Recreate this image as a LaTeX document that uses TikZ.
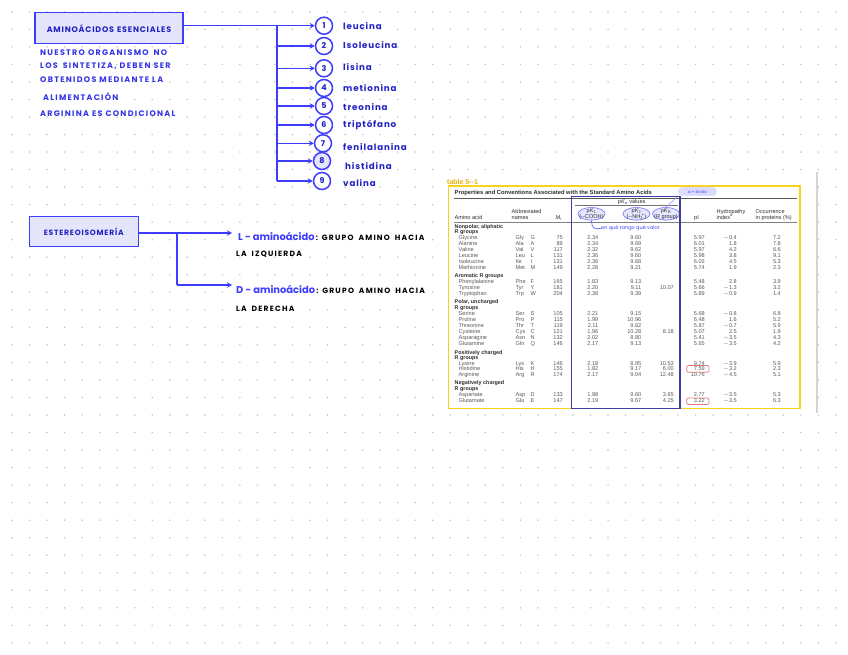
\documentclass[tikz,border=0pt]{standalone}
\usepackage{fontspec}
\setmainfont{Liberation Sans}
\newfontfamily\hand{Poppins}[LetterSpace=10]
\newfontfamily\handw{Poppins}[LetterSpace=16]
\newfontfamily\handn{Poppins}
\newfontfamily\tabf{Liberation Sans}
\usetikzlibrary{arrows.meta,calc,shapes.geometric}
\definecolor{lineblue}{HTML}{3D3DFF}
\definecolor{inkblue}{HTML}{2222C4}
\definecolor{parblue}{HTML}{3535E6}
\definecolor{boxfill}{HTML}{E4E4FA}
\definecolor{dotgray}{HTML}{C2C2C2}
\definecolor{tabgray}{HTML}{5A5A5A}
\definecolor{tabdark}{HTML}{2E2E2E}
\definecolor{tabyellow}{HTML}{F7D31A}
\definecolor{rectblue}{HTML}{3E3EA0}
\definecolor{ttlorange}{HTML}{E6AE00}
\definecolor{pinkred}{HTML}{E07A7A}
\newcommand{\wsp}{\hspace{3pt}}
\newcommand{\wspb}{\hspace{5pt}}
\tikzset{
  ln/.style={draw=lineblue, line width=1.3pt},
  arr/.style={ln, -{Stealth[length=5pt,width=5.5pt]}},
  hbox/.style={draw=lineblue, fill=boxfill, line width=1.2pt, inner sep=0pt},
  circ/.style={circle, draw=lineblue, line width=1.5pt, minimum size=17pt, inner sep=0pt, fill=white,
    font=\handn\bfseries\fontsize{8}{8}\selectfont, text=inkblue},
  lab/.style={anchor=west, inner sep=0pt, text=inkblue, font=\hand\bfseries\fontsize{8.7}{9}\selectfont},
  par/.style={anchor=west, inner sep=0pt, text=parblue, font=\handw\bfseries\fontsize{8}{9}\selectfont},
  blk/.style={anchor=west, inner sep=0pt, text=black, font=\handw\bfseries\fontsize{7.6}{8}\selectfont},
  tb/.style={inner sep=0pt, text=tabgray, font=\tabf\fontsize{5.6}{6}\selectfont},
  tg/.style={inner sep=0pt, text=tabdark, anchor=base west, font=\tabf\bfseries\fontsize{5.4}{6}\selectfont},
  hd/.style={inner sep=0pt, text=tabdark, font=\tabf\fontsize{5.6}{6}\selectfont},
  ell/.style={ellipse, draw=lineblue!75, fill=lineblue!13, line width=0.6pt, minimum width=27pt, minimum height=12.5pt, inner sep=0pt}
}
\begin{document}
\begin{tikzpicture}[x=1pt,y=-1pt]
\useasboundingbox (0,0) rectangle (848,655);
\fill[white] (0,0) rectangle (848,655);
% dot grid
\foreach \i in {0,...,47}{\foreach \j in {0,...,36}{\fill[dotgray] ({12+17.53*\i},{11.8+17.53*\j}) circle (0.85pt);}}

% ---------- Aminoacidos esenciales ----------
\node[hbox, minimum width=148pt, minimum height=31pt] (ae) at (109,28.3)
  {\textcolor{inkblue}{\hand\bfseries\fontsize{8}{9}\selectfont AMINOÁCIDOS\wsp ESENCIALES}};
\node[par] (p1) at (40,52.7) {NUESTRO\wsp ORGANISMO\wspb NO};
\node[par] (p2) at (40,66.3) {LOS\wspb SINTETIZA,\wsp DEBEN\wsp SER};
\node[par] (p3) at (40,80) {OBTENIDOS\wsp MEDIANTE\wsp LA};
\node[par] (p4) at (43,96.7) {ALIMENTACIÓN};
\node[par] (p5) at (40,114) {ARGININA\wsp ES\wsp CONDICIONAL};

\node[circ] (c1) at (324,25.7) {1};
\node[circ] (c2) at (324,46) {2};
\node[circ] (c3) at (324,68.3) {3};
\node[circ] (c4) at (324,88) {4};
\node[circ] (c5) at (324,106) {5};
\node[circ] (c6) at (324,125) {6};
\node[circ] (c7) at (323,143.3) {7};
\node[circ, fill=boxfill] (c8) at (322,161) {8};
\node[circ] (c9) at (322,181) {9};

\node[lab] (l1) at (343,25.7) {leucina};
\node[lab] (l2) at (343,45) {Isoleucina};
\node[lab] (l3) at (343,66.7) {lisina};
\node[lab] (l4) at (343,88.3) {metionina};
\node[lab] (l5) at (343,106.7) {treonina};
\node[lab] (l6) at (343,125) {triptófano};
\node[lab] (l7) at (343,146.7) {fenilalanina};
\node[lab] (l8) at (345,166) {histidina};
\node[lab] (l9) at (343,183.3) {valina};

\coordinate (tk) at (277,0);
\draw[ln] (ae.east |- c1) -- (tk |- c1);
\draw[ln] (tk |- c1) -- (tk |- c9);
\draw[arr] (tk |- c1) -- (c1);
\foreach \k in {2,...,9}{\draw[arr] (tk |- c\k) -- (c\k);}

% ---------- Estereoisomeria ----------
\node[hbox, minimum width=109pt, minimum height=30pt] (st) at (83.7,231.7)
  {\textcolor{inkblue}{\hand\bfseries\fontsize{7.6}{8}\selectfont ESTEREOISOMERÍA}};
\coordinate (sj) at (177,233);
\coordinate (La) at (232,233);
\coordinate (Da) at (232,285);
\draw[ln] (st.east |- sj) -- (sj) -- (sj |- Da);
\draw[arr] (sj) -- (La);
\draw[arr] (sj |- Da) -- (Da);
\node[blk] (Lt) at (238,236.5) {\textcolor{lineblue}{\handn\fontsize{9.9}{10}\selectfont L - aminoácido}\,: GRUPO\wspb AMINO\wspb HACIA};
\node[blk] (Lt2) at (236,254.5) {LA\wspb IZQUIERDA};
\node[blk] (Dt) at (236,289) {\textcolor{lineblue}{\handn\fontsize{9.9}{10}\selectfont D - aminoácido}\,: GRUPO\wspb AMINO\wspb HACIA};
\node[blk] (Dt2) at (236,308.5) {LA\wspb DERECHA};

% ---------- Table image ----------
\fill[white] (444,172) rectangle (816,413);
\draw[black!17, line width=1.5pt] (817,172) -- (817,413);
\node[inner sep=0pt, anchor=base west, text=ttlorange, font=\tabf\bfseries\fontsize{7}{8}\selectfont] (tl) at (447,184.3) {table 5--1};
\draw[tabyellow, line width=1.5pt] (448.5,186) rectangle (800,408.5);
\node[inner sep=0pt, anchor=base west, text=tabdark, font=\tabf\bfseries\fontsize{5.8}{7}\selectfont] (tt) at (454.5,194.3) {Properties and Conventions Associated with the Standard Amino Acids};
\draw[black!65, line width=0.6pt] (454,198.3) -- (797,198.3);
\draw[black!55, line width=0.5pt] (575,205.3) -- (678,205.3);
\draw[black!50, line width=1.6pt] (454,222.6) -- (797,222.6);

% annotations behind header text
\node[ell] (e1) at (591.5,213.8) {};
\node[ell] (e2) at (636.5,213.8) {};
\node[ell] (e3) at (666,213.8) {};
\node[rounded corners=4.5pt, fill=lineblue!18, minimum width=39pt, minimum height=9pt, inner sep=0pt,
  text=lineblue, font=\handn\fontsize{4}{4}\selectfont] (pill) at (697.5,191.5) {a = ácido};
\draw[lineblue!60, line width=0.5pt] (pill.south west) -- (e3.north);

% header
\node[hd, anchor=base] (pv) at (631.7,203.2) {p\textit{K}\textsubscript{a} values};
\node[hd, anchor=base west] (h1) at (454.5,219) {Amino acid};
\node[hd, anchor=base west] (h2) at (511.5,213) {Abbreviated};
\node[hd, anchor=base west] (h2b) at (511.5,219) {names};
\node[hd, anchor=base west] (h3) at (555.5,219) {\textit{M}\textsubscript{r}};
\node[hd, anchor=base] (k1) at (591.5,212.5) {p\textit{K}\textsubscript{1}};
\node[hd, anchor=base] (k1b) at (591.5,218.8) {(--COOH)};
\node[hd, anchor=base] (k2) at (636.5,212.5) {p\textit{K}\textsubscript{2}};
\node[hd, anchor=base] (k2b) at (636.5,218.8) {(--NH\textsubscript{3}\kern-0.25em\textsuperscript{+})};
\node[hd, anchor=base] (k3) at (666,212.5) {p\textit{K}\textsubscript{R}};
\node[hd, anchor=base] (k3b) at (666,218.8) {(R group)};
\node[hd, anchor=base west] (h5) at (694,219) {pI};
\node[hd, anchor=base west] (h6) at (716.5,213) {Hydropathy};
\node[hd, anchor=base west] (h6b) at (716.5,219) {index\textsuperscript{a}};
\node[hd, anchor=base west] (h7) at (755.5,213) {Occurrence};
\node[hd, anchor=base west] (h7b) at (755.5,219) {in proteins (\%)};

\node[inner sep=0pt, anchor=west, text=lineblue, font=\handn\fontsize{5}{5}\selectfont] (hk) at (601,228.3) {en qué rango qué valor};
\draw[lineblue, line width=0.5pt] (e1.south) .. controls (592,229) and (594,229.5) .. (hk.west);

% group headings
\node[tg] (g1) at (454.5,228) {Nonpolar, aliphatic};
\node[tg] (g1b) at (454.5,233.7) {R groups};
\node[tg] (g2) at (454.5,277.3) {Aromatic R groups};
\node[tg] (g3) at (454.5,303.3) {Polar, uncharged};
\node[tg] (g3b) at (454.5,309.3) {R groups};
\node[tg] (g4) at (454.5,354) {Positively charged};
\node[tg] (g4b) at (454.5,359.3) {R groups};
\node[tg] (g5) at (454.5,384.7) {Negatively charged};
\node[tg] (g5b) at (454.5,390) {R groups};

% rows
\foreach \y/\n/\a/\b/\m/\ka/\kb/\kr/\p/\h/\o [count=\r] in {
237.3/Glycine/Gly/G/75/2.34/9.60/{}/5.97/$-$0.4/7.2,
243.3/Alanine/Ala/A/89/2.34/9.69/{}/6.01/1.8/7.8,
249.4/Valine/Val/V/117/2.32/9.62/{}/5.97/4.2/6.6,
255.3/Leucine/Leu/L/131/2.36/9.60/{}/5.98/3.8/9.1,
261.3/Isoleucine/Ile/I/131/2.36/9.68/{}/6.02/4.5/5.3,
267.3/Methionine/Met/M/149/2.28/9.21/{}/5.74/1.9/2.3,
281.7/Phenylalanine/Phe/F/165/1.83/9.13/{}/5.48/2.8/3.9,
287.7/Tyrosine/Tyr/Y/181/2.20/9.11/10.07/5.66/$-$1.3/3.2,
293.7/Tryptophan/Trp/W/204/2.38/9.39/{}/5.89/$-$0.9/1.4,
313.3/Serine/Ser/S/105/2.21/9.15/{}/5.68/$-$0.8/6.8,
319.3/Proline/Pro/P/115/1.99/10.96/{}/6.48/1.6/5.2,
325.3/Threonine/Thr/T/119/2.11/9.62/{}/5.87/$-$0.7/5.9,
331.3/Cysteine/Cys/C/121/1.96/10.28/8.18/5.07/2.5/1.9,
337.3/Asparagine/Asn/N/132/2.02/8.80/{}/5.41/$-$3.5/4.3,
343.3/Glutamine/Gln/Q/146/2.17/9.13/{}/5.65/$-$3.5/4.2,
363/Lysine/Lys/K/146/2.18/8.95/10.53/9.74/$-$3.9/5.9,
368.7/Histidine/His/H/155/1.82/9.17/6.00/7.59/$-$3.2/2.3,
374.3/Arginine/Arg/R/174/2.17/9.04/12.48/10.76/$-$4.5/5.1,
394.7/Aspartate/Asp/D/133/1.88/9.60/3.65/2.77/$-$3.5/5.3,
400.3/Glutamate/Glu/E/147/2.19/9.67/4.25/3.22/$-$3.5/6.3}{
  \node[tb, anchor=base west] (rn\r) at (458.5,{\y+2}) {\n};
  \node[tb, anchor=base west] (ra\r) at (515.5,{\y+2}) {\a};
  \node[tb, anchor=base west] (rb\r) at (530.5,{\y+2}) {\b};
  \node[tb, anchor=base east] (rm\r) at (563,{\y+2}) {\m};
  \node[tb, anchor=base east] (k1\r) at (598.5,{\y+2}) {\ka};
  \node[tb, anchor=base east] (k2\r) at (641.5,{\y+2}) {\kb};
  \node[tb, anchor=base east] (kr\r) at (674,{\y+2}) {\kr};
  \node[tb, anchor=base east] (pi\r) at (705,{\y+2}) {\p};
  \node[tb, anchor=base east] (hy\r) at (737,{\y+2}) {\h};
  \node[tb, anchor=base east] (oc\r) at (781,{\y+2}) {\o};
}
\draw[pinkred, rounded corners=1.5pt, line width=0.7pt] (686.7,365.5) rectangle (709,372.3);
\draw[pinkred, rounded corners=1.5pt, line width=0.7pt] (686.7,398) rectangle (709,404.5);

\draw[rectblue, line width=1.5pt] (571.7,196.7) rectangle (680,408.5);
\end{tikzpicture}
\end{document}
